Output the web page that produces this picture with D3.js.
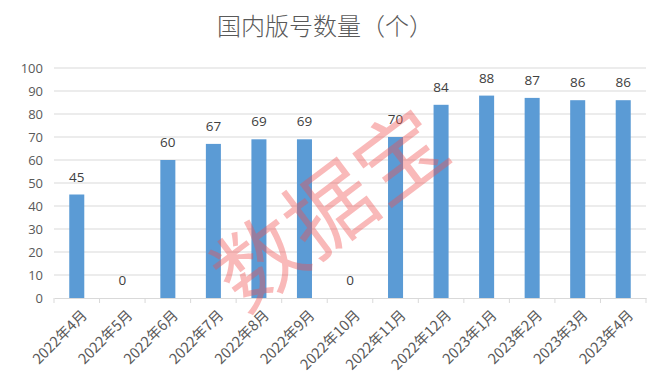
<!DOCTYPE html>
<html>
<head>
<meta charset="utf-8">
<script src="https://cdn.jsdelivr.net/npm/d3@7"></script>
<style>
  body { margin: 0; background: #fff; }
  text { font-family: "Noto Sans CJK SC", "Noto Sans", sans-serif; }
</style>
</head>
<body>
<div id="chart"></div>
<script>
// Data
const months = ['2022年4月', '2022年5月', '2022年6月', '2022年7月', '2022年8月', '2022年9月',
  '2022年10月', '2022年11月', '2022年12月', '2023年1月', '2023年2月', '2023年3月', '2023年4月'];
const counts = [45, 0, 60, 67, 69, 69, 0, 70, 84, 88, 87, 86, 86];
const yTicks = [0, 10, 20, 30, 40, 50, 60, 70, 80, 90, 100];

const width = 662, height = 392;
const margin = { top: 68, right: 16, bottom: 94, left: 54 };

const svg = d3.select('#chart').append('svg')
  .attr('width', width)
  .attr('height', height);

const x = d3.scaleBand()
  .domain(months)
  .range([margin.left, width - margin.right])
  .paddingInner(0.67)
  .paddingOuter(0.335);

const y = d3.scaleLinear()
  .domain([0, 100])
  .range([height - margin.bottom, margin.top]);

// Title
svg.append('text')
  .attr('x', 325)
  .attr('y', 35)
  .attr('text-anchor', 'middle')
  .attr('fill', '#595959')
  .style('font-size', '24px')
  .style('font-weight', 300)
  .text('国内版号数量（个）');

// Gridlines
svg.append('g')
  .selectAll('line')
  .data(yTicks.slice(1))
  .join('line')
  .attr('x1', margin.left)
  .attr('x2', width - margin.right)
  .attr('y1', (d) => y(d))
  .attr('y2', (d) => y(d))
  .attr('stroke', '#d9d9d9')
  .attr('stroke-width', 1);

// Y axis
const yAxis = svg.append('g')
  .attr('transform', `translate(${margin.left - 11},0)`)
  .call(d3.axisLeft(y).tickValues(yTicks).tickSize(0).tickPadding(0));
yAxis.select('.domain').remove();
yAxis.selectAll('text')
  .attr('fill', '#595959')
  .style('font-size', '13px')
  .style('font-family', '"Open Sans", "Noto Sans", sans-serif');

// Bars
svg.append('g')
  .selectAll('rect')
  .data(counts)
  .join('rect')
  .attr('x', (d, i) => x(months[i]))
  .attr('y', (d) => y(d))
  .attr('width', x.bandwidth())
  .attr('height', (d) => y(0) - y(d))
  .attr('fill', '#5b9bd5');

// X axis
const xAxis = svg.append('g')
  .attr('transform', `translate(0,${y(0)})`)
  .call(d3.axisBottom(x).tickSizeOuter(0).tickSize(0));
xAxis.select('.domain').attr('stroke', '#d9d9d9');
xAxis.selectAll('.tick line').remove();

// Tick marks between categories
const step = x.step();
svg.append('g')
  .selectAll('line')
  .data(d3.range(months.length + 1))
  .join('line')
  .attr('x1', (i) => margin.left + i * step)
  .attr('x2', (i) => margin.left + i * step)
  .attr('y1', y(0))
  .attr('y2', y(0) + 5)
  .attr('stroke', '#d9d9d9');

xAxis.selectAll('text')
  .attr('fill', '#595959')
  .style('font-size', '14.5px')
  .attr('text-anchor', 'end')
  .attr('dy', 0)
  .attr('transform', 'translate(9,16) rotate(-45)');

// Value labels
svg.append('g')
  .selectAll('text')
  .data(counts)
  .join('text')
  .attr('x', (d, i) => x(months[i]) + x.bandwidth() / 2)
  .attr('y', (d) => y(d) - 13)
  .attr('text-anchor', 'middle')
  .attr('fill', '#404040')
  .style('font-size', '13.5px')
  .style('font-family', '"Open Sans", "Noto Sans", sans-serif')
  .text((d) => d);

// Watermark
svg.append('text')
  .attr('transform', 'translate(326,204) rotate(-37)')
  .attr('text-anchor', 'middle')
  .attr('dominant-baseline', 'central')
  .attr('fill', '#f05050')
  .attr('fill-opacity', 0.4)
  .style('font-size', '88px')
  .text('数据宝');
</script>
</body>
</html>
